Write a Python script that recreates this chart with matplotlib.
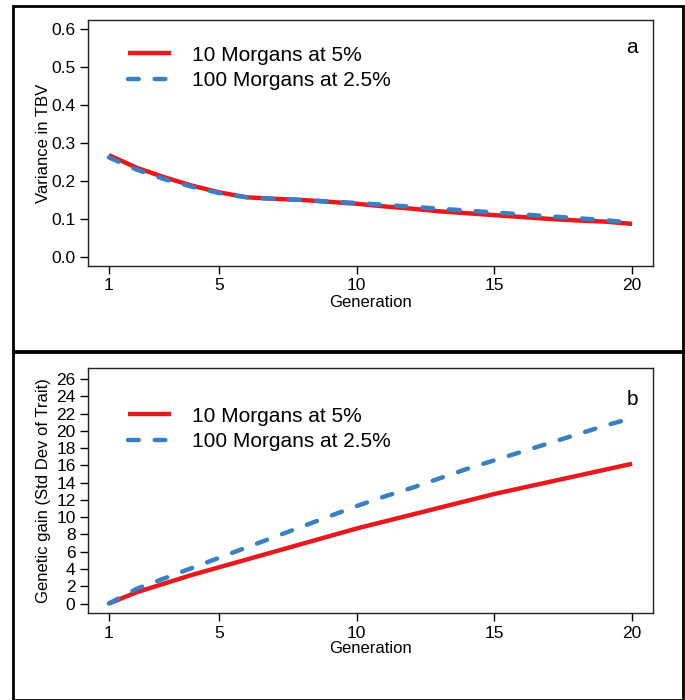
import matplotlib
matplotlib.use("Agg")
import matplotlib.pyplot as plt
from matplotlib.patches import Rectangle

plt.rcParams['font.family'] = ['Liberation Sans', 'DejaVu Sans']

generation = list(range(1, 21))

# panel a: variance in TBV
var_10m = [0.268, 0.235, 0.210, 0.188, 0.170, 0.157, 0.153, 0.150, 0.145, 0.140,
           0.133, 0.127, 0.120, 0.115, 0.110, 0.105, 0.100, 0.096, 0.093, 0.087]
var_100m = [0.262, 0.230, 0.205, 0.185, 0.168, 0.157, 0.153, 0.150, 0.146, 0.142,
            0.137, 0.132, 0.127, 0.122, 0.117, 0.112, 0.107, 0.102, 0.097, 0.090]

# panel b: genetic gain
gain_10m = [0.0, 1.3, 2.3, 3.3, 4.2, 5.1, 6.0, 6.9, 7.8, 8.7,
            9.5, 10.3, 11.1, 11.9, 12.7, 13.4, 14.1, 14.8, 15.5, 16.2]
gain_100m = [0.0, 1.7, 2.9, 4.1, 5.3, 6.5, 7.7, 8.9, 10.1, 11.3,
             12.4, 13.4, 14.5, 15.6, 16.6, 17.6, 18.6, 19.6, 20.6, 21.5]

labels = ['10 Morgans at 5%', '100 Morgans at 2.5%']
red = '#e8191e'
blue = '#3a7fc1'

fig = plt.figure(figsize=(6.85, 7.0), dpi=100)

# outer boxes
for y0, h in [(1 - 352 / 700, 346 / 700), (0.0, 349 / 700)]:
    fig.patches.append(Rectangle((13 / 685, y0), 670 / 685, h, transform=fig.transFigure,
                                 fill=False, edgecolor='black', linewidth=2.0))

ax1 = fig.add_axes([88 / 685, 1 - 266 / 700, 565 / 685, 246 / 700])
ax2 = fig.add_axes([88 / 685, 1 - 613 / 700, 565 / 685, 245 / 700])


def draw(ax, y_red, y_blue, ylim, yticks, ylabel, letter, leg_y, letter_y):
    ax.plot(generation, y_red, color=red, lw=3.2, solid_capstyle='butt', label=labels[0])
    ax.plot(generation, y_blue, color=blue, lw=3.2, dashes=(2.4, 3.6),
            dash_capstyle='round', label=labels[1])
    ax.set_xlim(0.24, 20.76)
    ax.set_ylim(*ylim)
    ax.set_xticks([1, 5, 10, 15, 20])
    ax.set_yticks(yticks)
    ax.tick_params(direction='out', length=6, width=1, labelsize=12.5, pad=3)
    for s in ax.spines.values():
        s.set_linewidth(1.0)
        s.set_color('#222222')
    ax.set_xlabel('Generation', fontsize=12)
    ax.xaxis.set_label_coords(0.5, -0.116)
    ax.set_ylabel(ylabel, fontsize=12)
    ax.yaxis.set_label_coords(-0.066, 0.5)
    ax.legend(loc='upper left', bbox_to_anchor=(0.071, leg_y), frameon=False,
              fontsize=15, handlelength=2.07, handletextpad=1.0, labelspacing=0.3,
              borderpad=0, borderaxespad=0)
    ax.text(0.963, letter_y, letter, transform=ax.transAxes, fontsize=15,
            ha='center', va='center')


draw(ax1, var_10m, var_100m, (-0.024, 0.624),
     [0.0, 0.1, 0.2, 0.3, 0.4, 0.5, 0.6], 'Variance in TBV', 'a', 0.896, 0.89)
ax1.set_yticklabels(['0.0', '0.1', '0.2', '0.3', '0.4', '0.5', '0.6'])

draw(ax2, gain_10m, gain_100m, (-1.1, 27.3),
     list(range(0, 27, 2)), 'Genetic gain (Std Dev of Trait)', 'b', 0.842, 0.873)

fig.savefig('out.png', dpi=100)
